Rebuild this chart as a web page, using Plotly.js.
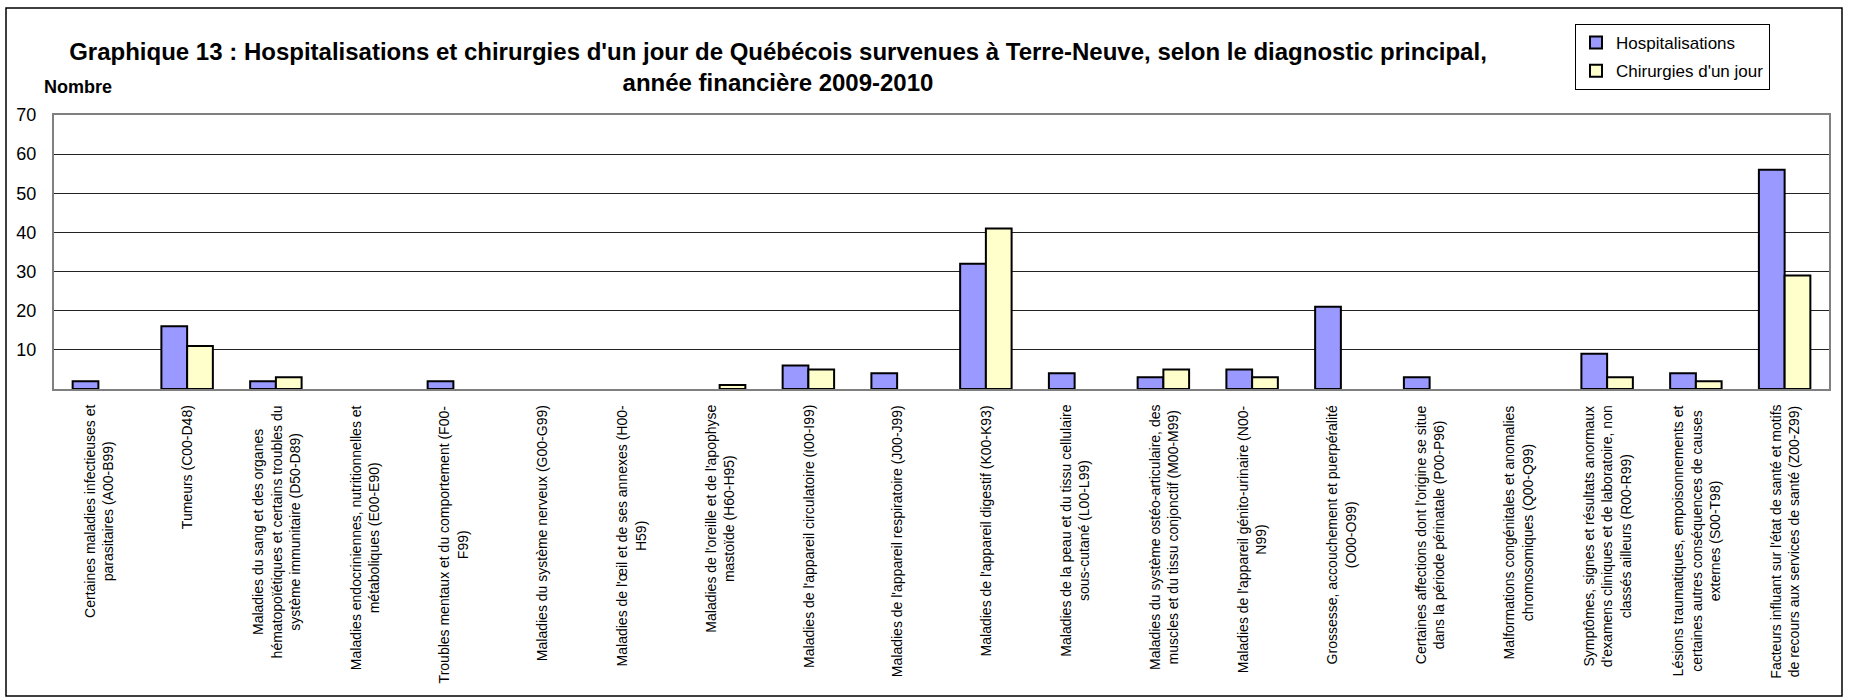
<!DOCTYPE html>
<html>
<head>
<meta charset="utf-8">
<script src="https://cdn.plot.ly/plotly-3.0.1.min.js"></script>
<style>
  html, body { margin: 0; padding: 0; background: #ffffff; }
  #chart { width: 1849px; height: 698px; }
</style>
</head>
<body>
<div id="chart"></div>
<script>
// ---- Data ----
const categories = [
  "A00-B99", "C00-D48", "D50-D89", "E00-E90", "F00-F99", "G00-G99", "H00-H59",
  "H60-H95", "I00-I99", "J00-J99", "K00-K93", "L00-L99", "M00-M99", "N00-N99",
  "O00-O99", "P00-P96", "Q00-Q99", "R00-R99", "S00-T98", "Z00-Z99"
];

const tickLabels = [
  "Certaines maladies infectieuses et<br>parasitaires (A00-B99)",
  "Tumeurs (C00-D48)",
  "Maladies du sang et des organes<br>hématopoïétiques et certains troubles du<br>système immunitaire (D50-D89)",
  "Maladies endocriniennes, nutritionnelles et<br>métaboliques (E00-E90)",
  "Troubles mentaux et du comportement (F00-<br>F99)",
  "Maladies du système nerveux (G00-G99)",
  "Maladies de l'œil et de ses annexes (H00-<br>H59)",
  "Maladies de l'oreille et de l'apophyse<br>mastoïde (H60-H95)",
  "Maladies de l'appareil circulatoire (I00-I99)",
  "Maladies de l'appareil respiratoire (J00-J99)",
  "Maladies de l'appareil digestif (K00-K93)",
  "Maladies de la peau et du tissu cellulaire<br>sous-cutané (L00-L99)",
  "Maladies du système ostéo-articulaire, des<br>muscles et du tissu conjonctif (M00-M99)",
  "Maladies de l'appareil génito-urinaire (N00-<br>N99)",
  "Grossesse, accouchement et puerpéralité<br>(O00-O99)",
  "Certaines affections dont l'origine se situe<br>dans la période périnatale (P00-P96)",
  "Malformations congénitales et anomalies<br>chromosomiques (Q00-Q99)",
  "Symptômes, signes et résultats anormaux<br>d'examens cliniques et de laboratoire, non<br>classés ailleurs (R00-R99)",
  "Lésions traumatiques, empoisonnements et<br>certaines autres conséquences de causes<br>externes (S00-T98)",
  "Facteurs influant sur l'état de santé et motifs<br>de recours aux services de santé (Z00-Z99)"
];

const hospitalisations = [2, 16, 2, 0, 2, 0, 0, 0, 6, 4, 32, 4, 3, 5, 21, 3, 0, 9, 4, 56];
const chirurgiesJour   = [0, 11, 3, 0, 0, 0, 0, 1, 5, 0, 41, 0, 5, 3, 0, 0, 0, 3, 2, 29];

const yTickValues = [10, 20, 30, 40, 50, 60, 70];

const seriesNames = ["Hospitalisations", "Chirurgies d'un jour"];
const titleText = "<b>Graphique 13 : Hospitalisations et chirurgies d'un jour de Québécois survenues à Terre-Neuve, selon le diagnostic principal,<br>année financière 2009-2010</b>";
const yLabelText = "<b>Nombre</b>";

// ---- Chart ----
const FONT = "Arial, 'Liberation Sans', sans-serif";

// zero counts draw no bar at all (as in the original chart)
const visibleBars = vals => vals.map(v => (v === 0 ? null : v));

const traces = [
  {
    type: "bar",
    name: seriesNames[0],
    x: categories,
    y: visibleBars(hospitalisations),
    legendgroup: "g1",
    marker: { color: "#9999FF", line: { color: "#000000", width: 2 } },
    hoverinfo: "skip"
  },
  {
    type: "bar",
    name: seriesNames[1],
    x: categories,
    y: visibleBars(chirurgiesJour),
    legendgroup: "g2",
    marker: { color: "#FFFFCC", line: { color: "#000000", width: 2 } },
    hoverinfo: "skip"
  }
];

const L = 54, R = 20, T = 115, B = 309;
const W = 1849, H = 698;
const pw = W - L - R, ph = H - T - B;
const px = v => (v - L) / pw;
const py = v => (H - B - v) / ph;

// category labels: rotated, lines centred, top-aligned just under the axis
const labelAnnotations = categories.map((c, i) => ({
  text: tickLabels[i],
  xref: "x",
  yref: "paper",
  x: c,
  y: py(403),
  xanchor: "center",
  yanchor: "top",
  textangle: -90,
  align: "center",
  showarrow: false,
  font: { family: FONT, size: 14, color: "#000000" }
}));

const layout = {
  width: W,
  height: H,
  margin: { l: L, r: R, t: T, b: B },
  paper_bgcolor: "#ffffff",
  plot_bgcolor: "#ffffff",
  font: { family: FONT, color: "#000000" },
  barmode: "group",
  bargap: 0.42,
  bargroupgap: 0,
  title: {
    text: titleText,
    font: { family: FONT, size: 24, color: "#000000" },
    xref: "container",
    x: 778 / W,
    xanchor: "center",
    yref: "container",
    y: 1 - 60 / H,
    yanchor: "top"
  },
  xaxis: {
    type: "category",
    tickvals: categories,
    ticktext: tickLabels,
    showticklabels: false,
    ticks: "",
    showline: true,
    linecolor: "#808080",
    linewidth: 2,
    mirror: true,
    showgrid: false,
    zeroline: false,
    fixedrange: true
  },
  yaxis: {
    range: [0, 70],
    tickvals: yTickValues,
    ticktext: yTickValues.map(String),
    tickfont: { family: FONT, size: 18, color: "#000000" },
    ticks: "",
    ticklabelstandoff: 12,
    showline: true,
    linecolor: "#808080",
    linewidth: 2,
    mirror: true,
    showgrid: true,
    gridcolor: "#222222",
    gridwidth: 1,
    zeroline: false,
    fixedrange: true
  },
  showlegend: true,
  legend: {
    x: px(1575),
    y: py(24),
    xanchor: "left",
    yanchor: "top",
    xref: "paper",
    yref: "paper",
    bgcolor: "#ffffff",
    bordercolor: "#000000",
    borderwidth: 1,
    font: { family: FONT, size: 17, color: "#000000" },
    traceorder: "grouped",
    tracegroupgap: 3
  },
  annotations: [
    {
      text: yLabelText,
      xref: "paper",
      yref: "paper",
      x: px(42),
      y: py(87),
      xanchor: "left",
      yanchor: "middle",
      showarrow: false,
      font: { family: FONT, size: 18, color: "#000000" }
    }
  ].concat(labelAnnotations),
  shapes: [
    {
      type: "rect",
      xref: "paper",
      yref: "paper",
      x0: px(6),
      x1: px(1842),
      y0: py(696),
      y1: py(8),
      line: { color: "#000000", width: 1.5 },
      fillcolor: "rgba(0,0,0,0)",
      layer: "above"
    }
  ]
};

Plotly.newPlot("chart", traces, layout, { displayModeBar: false, staticPlot: true });
</script>
</body>
</html>
